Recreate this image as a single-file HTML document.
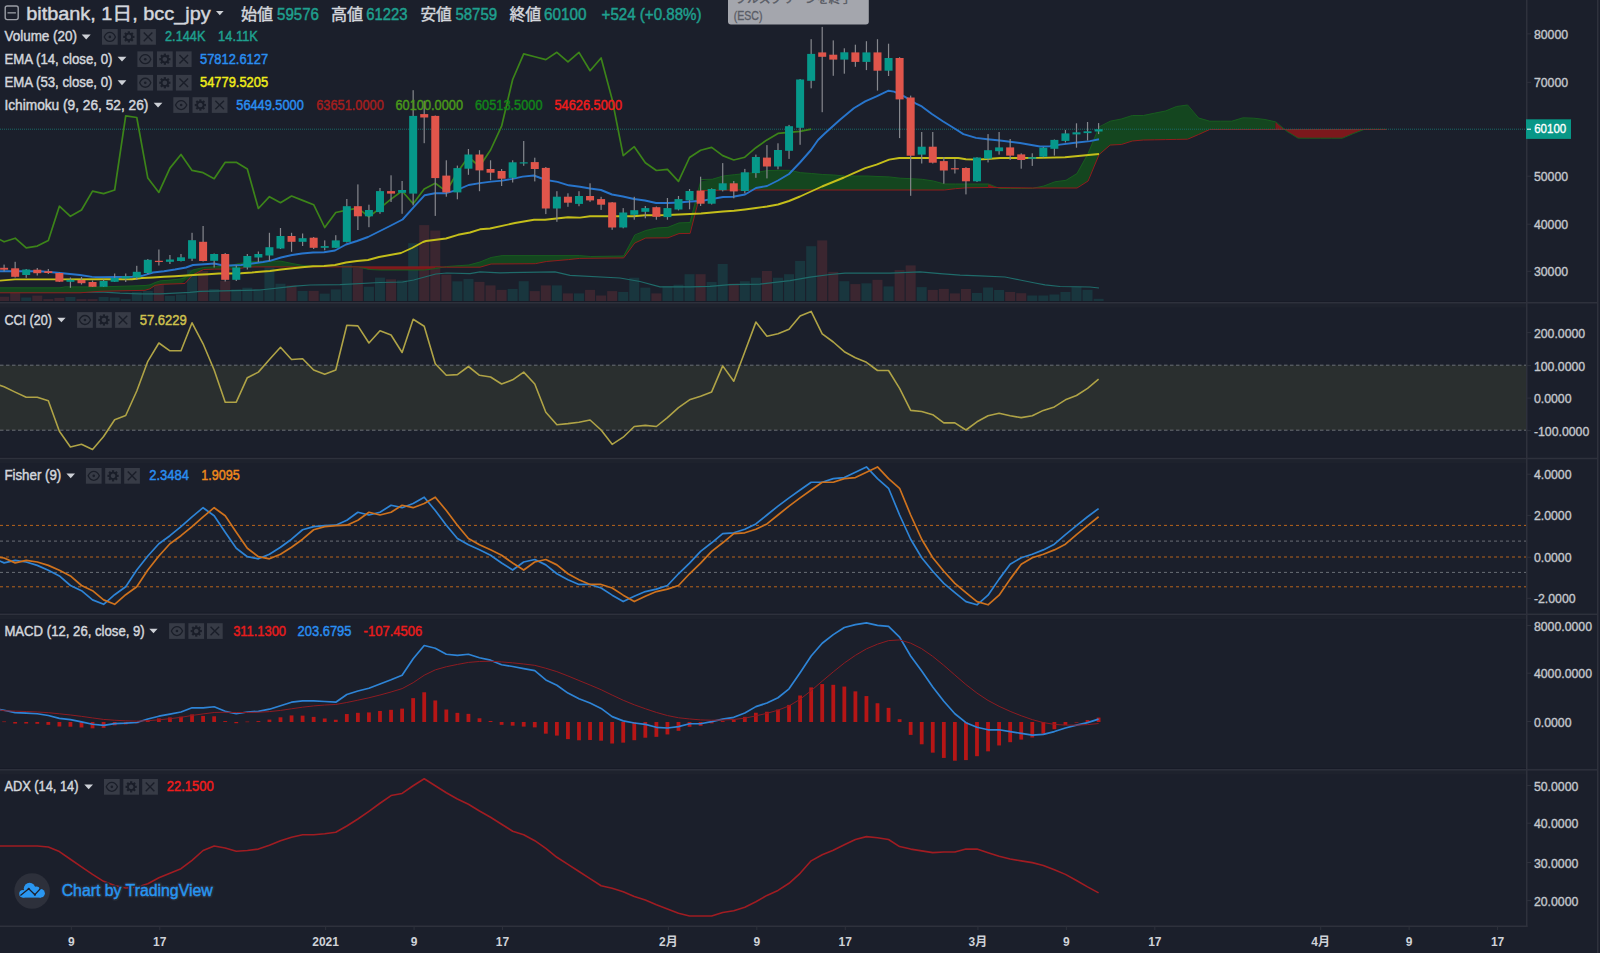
<!DOCTYPE html>
<html><head><meta charset="utf-8"><title>bitbank bcc_jpy</title><style>
html,body{margin:0;padding:0;background:#1b1f2b;width:1600px;height:953px;overflow:hidden}
svg{display:block}
text{font-family:"Liberation Sans","Noto Sans CJK JP",sans-serif}
</style></head><body>
<svg width="1600" height="953" viewBox="0 0 1600 953">
<rect width="1600" height="953" fill="#1b1f2b"/>
<defs><clipPath id="cm"><rect x="0" y="0" width="1526.5" height="302"/></clipPath>
<clipPath id="c2"><rect x="0" y="303" width="1526.5" height="155"/></clipPath>
<clipPath id="c3"><rect x="0" y="459" width="1526.5" height="155"/></clipPath>
<clipPath id="c4"><rect x="0" y="615" width="1526.5" height="154"/></clipPath>
<clipPath id="c5"><rect x="0" y="770" width="1526.5" height="156"/></clipPath></defs>
<g clip-path="url(#cm)">
<g fill="#3b2630"><rect x="-0.9" y="296.7" width="10" height="4.3"/><rect x="10.16" y="287.4" width="10" height="13.6"/><rect x="32.27" y="295.6" width="10" height="5.4"/><rect x="43.32" y="299.1" width="10" height="1.9"/><rect x="54.38" y="297.9" width="10" height="3.1"/><rect x="76.49" y="299.1" width="10" height="1.9"/><rect x="87.54" y="299.1" width="10" height="1.9"/><rect x="153.88" y="284.5" width="10" height="16.5"/><rect x="198.1" y="271" width="10" height="30"/><rect x="220.21" y="280.9" width="10" height="20.1"/><rect x="286.55" y="285.5" width="10" height="15.5"/><rect x="308.66" y="290.9" width="10" height="10.1"/><rect x="352.88" y="267.8" width="10" height="33.2"/><rect x="386.05" y="279.3" width="10" height="21.7"/><rect x="419.21" y="225.1" width="10" height="75.9"/><rect x="430.27" y="230.5" width="10" height="70.5"/><rect x="441.32" y="274.6" width="10" height="26.4"/><rect x="474.49" y="281.9" width="10" height="19.1"/><rect x="485.55" y="285.4" width="10" height="15.6"/><rect x="496.6" y="289.9" width="10" height="11.1"/><rect x="529.77" y="291.1" width="10" height="9.9"/><rect x="540.82" y="285.4" width="10" height="15.6"/><rect x="562.94" y="293.4" width="10" height="7.6"/><rect x="585.05" y="289.9" width="10" height="11.1"/><rect x="596.1" y="295.5" width="10" height="5.5"/><rect x="607.16" y="291.1" width="10" height="9.9"/><rect x="651.38" y="293.4" width="10" height="7.6"/><rect x="695.6" y="274.2" width="10" height="26.8"/><rect x="728.77" y="283.6" width="10" height="17.4"/><rect x="761.94" y="271" width="10" height="30"/><rect x="817.21" y="240.4" width="10" height="60.6"/><rect x="828.27" y="271.9" width="10" height="29.1"/><rect x="850.38" y="284.1" width="10" height="16.9"/><rect x="872.49" y="279.8" width="10" height="21.2"/><rect x="894.6" y="270.1" width="10" height="30.9"/><rect x="905.66" y="265.4" width="10" height="35.6"/><rect x="927.77" y="289.9" width="10" height="11.1"/><rect x="938.83" y="288.9" width="10" height="12.1"/><rect x="949.88" y="293.4" width="10" height="7.6"/><rect x="960.94" y="289" width="10" height="12"/><rect x="1005.16" y="292" width="10" height="9"/><rect x="1016.22" y="293.2" width="10" height="7.8"/></g>
<g fill="#19363e"><rect x="21.21" y="297.5" width="10" height="3.5"/><rect x="65.43" y="297" width="10" height="4"/><rect x="98.6" y="297" width="10" height="4"/><rect x="109.66" y="297.5" width="10" height="3.5"/><rect x="120.71" y="299.1" width="10" height="1.9"/><rect x="131.77" y="291.8" width="10" height="9.2"/><rect x="142.82" y="290.9" width="10" height="10.1"/><rect x="164.93" y="295.8" width="10" height="5.2"/><rect x="175.99" y="294.5" width="10" height="6.5"/><rect x="187.05" y="269.7" width="10" height="31.3"/><rect x="209.16" y="289" width="10" height="12"/><rect x="231.27" y="289.3" width="10" height="11.7"/><rect x="242.32" y="287.7" width="10" height="13.3"/><rect x="253.38" y="289.3" width="10" height="11.7"/><rect x="264.43" y="267.4" width="10" height="33.6"/><rect x="275.49" y="283.7" width="10" height="17.3"/><rect x="297.6" y="291" width="10" height="10"/><rect x="319.71" y="293.6" width="10" height="7.4"/><rect x="330.77" y="289.4" width="10" height="11.6"/><rect x="341.82" y="264.6" width="10" height="36.4"/><rect x="363.93" y="286.7" width="10" height="14.3"/><rect x="374.99" y="277.6" width="10" height="23.4"/><rect x="397.1" y="280.4" width="10" height="20.6"/><rect x="408.16" y="243.2" width="10" height="57.8"/><rect x="452.38" y="281.3" width="10" height="19.7"/><rect x="463.44" y="278.9" width="10" height="22.1"/><rect x="507.66" y="288.9" width="10" height="12.1"/><rect x="518.71" y="281.2" width="10" height="19.8"/><rect x="551.88" y="285.4" width="10" height="15.6"/><rect x="573.99" y="293.4" width="10" height="7.6"/><rect x="618.21" y="292" width="10" height="9"/><rect x="629.27" y="277.7" width="10" height="23.3"/><rect x="640.32" y="287.6" width="10" height="13.4"/><rect x="662.44" y="286.4" width="10" height="14.6"/><rect x="673.49" y="284.7" width="10" height="16.3"/><rect x="684.55" y="274.2" width="10" height="26.8"/><rect x="706.66" y="281.9" width="10" height="19.1"/><rect x="717.71" y="264" width="10" height="37"/><rect x="739.83" y="281.2" width="10" height="19.8"/><rect x="750.88" y="277.7" width="10" height="23.3"/><rect x="772.99" y="277.7" width="10" height="23.3"/><rect x="784.05" y="274.2" width="10" height="26.8"/><rect x="795.1" y="260.9" width="10" height="40.1"/><rect x="806.16" y="246.2" width="10" height="54.8"/><rect x="839.33" y="281.2" width="10" height="19.8"/><rect x="861.44" y="283.3" width="10" height="17.7"/><rect x="883.55" y="286.4" width="10" height="14.6"/><rect x="916.71" y="287.1" width="10" height="13.9"/><rect x="971.99" y="293" width="10" height="8"/><rect x="983.05" y="287.5" width="10" height="13.5"/><rect x="994.1" y="290" width="10" height="11"/><rect x="1027.27" y="295.5" width="10" height="5.5"/><rect x="1038.33" y="295.5" width="10" height="5.5"/><rect x="1049.38" y="294.5" width="10" height="6.5"/><rect x="1060.44" y="292" width="10" height="9"/><rect x="1071.49" y="287" width="10" height="14"/><rect x="1082.55" y="289.8" width="10" height="11.2"/><rect x="1093.6" y="298.8" width="10" height="2.2"/></g>
<polyline points="0,292.5 60,292.5 80,292.3 100,291.9 120,293.1 140,293.8 160,293.8 190,292.3 200,291.3 260,290 295,286.1 310,285 340,284.6 380,282.5 402.6,282 413.7,280 424.7,277 435.8,274 446.8,273 470,273.6 480,271.9 500,272.8 555,271.9 570,275.4 620,278 640,281.5 660,286.8 690,286.8 710,286.4 730,284.7 760,284.1 790,280.6 810,277.1 830,274.5 845,273.1 890,273.1 920,271.9 940,273.6 960,275.2 980,275.8 1005,277 1010,278 1020,280 1035,283 1045,284.8 1060,286.5 1090,287 1099,288" fill="none" stroke="#1f6b6a" stroke-width="1.2"/>
<g fill="#14461f"><polygon points="-7,287.8 4.1,287.8 15.16,287.8 26.21,287.8 37.27,287.8 48.32,287.8 59.38,287.8 70.43,286.9 81.49,286.9 92.54,286.9 103.6,286.79 114.66,286.46 125.71,286.13 136.77,285.77 147.82,285.16 158.88,281.28 169.93,280.11 180.99,278.78 192.05,270.58 203.1,267.61 214.16,266.83 225.21,266.32 236.27,264.11 247.32,262.09 258.38,261.33 269.43,261.2 280.49,261.2 291.55,263.39 302.6,265.41 313.66,266.26 324.71,266.36 335.77,266.43 346.82,266.5 346.82,266.9 335.77,266.9 324.71,266.9 313.66,266.9 302.6,266.9 291.55,266.9 280.49,266.9 269.43,266.9 258.38,266.9 247.32,267.09 236.27,269.1 225.21,269.1 214.16,269.12 203.1,269.75 192.05,275.62 180.99,283.64 169.93,284.02 158.88,284.79 147.82,289.45 136.77,290.48 125.71,290.73 114.66,290.97 103.6,291.22 92.54,291.86 81.49,292.69 70.43,292.8 59.38,292.8 48.32,292.8 37.27,292.8 26.21,292.8 15.16,292.8 4.1,292.8 -7,292.8"/><polygon points="435.27,268.57 446.32,266.59 457.38,265.78 468.44,265.03 479.49,262.14 490.55,257.72 501.6,255.69 512.66,255.6 523.71,255.6 534.77,255.6 545.82,255.6 556.88,255.6 567.94,255.6 578.99,255.6 590.05,256.46 601.1,256.34 612.16,256.17 623.21,256.01 634.27,236 645.32,230.69 656.38,228.12 667.44,227.34 678.49,223.1 689.55,222.52 700.6,181.44 711.66,179.31 722.71,176.15 733.77,174.76 744.83,173.56 755.88,172.55 766.94,170.6 777.99,170.31 789.05,170.3 800.1,172.59 811.16,173.46 822.21,174.46 833.27,174.98 844.33,175.96 855.38,176 866.44,176 877.49,176.48 888.55,176.88 899.6,178.14 910.66,178.68 921.71,179.27 932.77,180.92 943.83,183.84 954.88,184 965.94,184 976.99,184 988.05,184 988.05,187.51 976.99,187.66 965.94,187.85 954.88,188.76 943.83,190 932.77,190 921.71,190 910.66,190 899.6,190 888.55,190 877.49,190 866.44,190 855.38,190 844.33,190 833.27,190 822.21,190 811.16,190 800.1,190 789.05,190 777.99,190 766.94,190 755.88,190 744.83,190 733.77,190.01 722.71,190.2 711.66,190.31 700.6,192.44 689.55,233.41 678.49,233.79 667.44,237.81 656.38,237.9 645.32,238.22 634.27,243.71 623.21,257.91 612.16,258.03 601.1,258.16 590.05,258.28 578.99,258.46 567.94,259.65 556.88,260.59 545.82,261.6 534.77,263.7 523.71,263.78 512.66,263.85 501.6,263.93 490.55,264.16 479.49,267.2 468.44,267.2 457.38,267.2 446.32,267.18 435.27,266.9"/><polygon points="1032.27,188.31 1043.33,186.12 1054.38,182 1065.44,180.38 1076.49,173.81 1087.55,154.49 1098.6,128.19 1109.66,121.48 1120.72,119.12 1131.77,115.67 1142.83,115.5 1153.88,113.31 1164.94,111.11 1175.99,106.71 1187.05,105.07 1198.1,117.41 1209.16,121.04 1220.22,121.2 1231.27,121.2 1242.33,117.98 1253.38,118.18 1264.44,119.43 1275.49,121.88 1275.49,129.5 1264.44,129.5 1253.38,129.5 1242.33,129.5 1231.27,129.5 1220.22,129.5 1209.16,129.74 1198.1,134.71 1187.05,139.21 1175.99,139.41 1164.94,139.61 1153.88,139.81 1142.83,140.05 1131.77,141.17 1120.72,144.53 1109.66,145.46 1098.6,155.69 1087.55,181.35 1076.49,188 1065.44,188 1054.38,188 1043.33,188 1032.27,187.99"/><polygon points="1363.94,129.51 1374.99,129.3 1386.05,129.3 1386.05,129.5 1374.99,129.5 1363.94,129.5"/></g>
<g fill="#7c181c"><polygon points="346.82,266.5 357.88,266.98 368.93,269.39 379.99,269.98 391.05,270 402.1,270 413.16,270 424.21,270 435.27,268.57 435.27,266.9 424.21,266.9 413.16,266.9 402.1,266.9 391.05,266.9 379.99,266.9 368.93,266.9 357.88,266.9 346.82,266.9"/><polygon points="988.05,184 999.1,188.3 1010.16,188.5 1021.22,188.5 1032.27,188.31 1032.27,187.99 1021.22,187.87 1010.16,187.74 999.1,187.62 988.05,187.51"/><polygon points="1275.49,121.88 1286.55,131.03 1297.61,137.9 1308.66,138.2 1319.72,138.2 1330.77,138.2 1341.83,138.2 1352.88,133.72 1363.94,129.51 1363.94,129.5 1352.88,129.5 1341.83,129.5 1330.77,129.5 1319.72,129.5 1308.66,129.5 1297.61,129.5 1286.55,129.5 1275.49,129.5"/></g>
<polyline points="-7,287.8 0,287.8 60,287.8 65,286.9 100,286.9 130,286 145,285.5 150,284.9 155,282.6 160,280.9 170,280.1 180,279 185,277.9 192.6,270 203.6,267.5 214.7,266.8 225.7,266.3 236.8,264 247.8,262 258.9,261.3 269.9,261.2 281,261.2 292.1,263.5 303.1,265.5 314.2,266.3 347.3,266.5 358.4,267 369.4,269.5 380.5,270 424.7,270 435.8,268.5 446.8,266.5 468.9,265 480,262 491.1,257.5 502.1,255.6 579.5,255.6 590.6,256.5 623.7,256 634.8,235 645.8,230.5 656.9,228 668,227.3 679,222.9 690.1,222.5 701.1,179.5 712.2,179.3 723.2,176 734.3,174.7 745.4,173.5 756.4,172.5 767.5,170.5 778.5,170.3 789.6,170.3 800.6,172.7 811.7,173.5 822.7,174.5 833.8,175 844.8,176 855.9,176 867,176 878,176.5 889.1,176.9 900.1,178.2 911.2,178.7 922.2,179.3 933.3,181 944.4,184 955.4,184 966.5,184 977.5,184 988.6,184 999.6,188.5 1010.7,188.5 1021.7,188.5 1032.8,188.3 1043.9,186 1054.9,181.8 1066,180.3 1077,173.5 1088.1,153.5 1099.1,127 1110.2,121.2 1121.3,119 1132.3,115.5 1143.4,115.5 1154.4,113.2 1165.5,111 1176.5,106.5 1187.6,105 1198.6,118 1209.7,121.2 1220.8,121.2 1231.8,121.2 1242.9,117.8 1253.9,118.2 1265,119.5 1276,122 1287.1,131.5 1298.1,138.2 1309.2,138.2 1320.3,138.2 1331.3,138.2 1342.4,138.2 1353.4,133.5 1364.5,129.3 1375.5,129.3 1386.6,129.3" fill="none" stroke="#185c1f" stroke-width="1"/>
<polyline points="-7,292.8 0,292.8 80,292.8 100,291.3 145,290.3 150,288.8 155,285.4 162,284.3 185,283.5 192.6,275 203.6,269.5 214.7,269.1 236.8,269.1 247.8,267 258.9,266.9 440,266.9 446.8,267.2 480,267.2 491.1,264 535.3,263.7 546.3,261.5 568.5,259.6 579.5,258.4 623.7,257.9 634.8,243 645.8,238 668,237.8 679,233.6 690.1,233.4 701.1,190.5 712.2,190.3 723.2,190.2 734.3,190 944.4,190 955.4,188.7 966.5,187.8 988.6,187.5 1032.8,188 1077,188 1088.1,181 1099.1,154.5 1110.2,145 1121.3,144.5 1132.3,141 1143.4,140 1154.4,139.8 1165.5,139.6 1176.5,139.4 1187.6,139.2 1198.6,134.5 1209.7,129.5 1386.6,129.5" fill="none" stroke="#8f1d1d" stroke-width="1"/>
<line x1="0" y1="129.2" x2="1526.5" y2="129.2" stroke="#1a6a69" stroke-width="1" stroke-dasharray="1,1"/>
<polyline points="-6.96,236 4.1,241.8 15.16,238.2 26.21,247.8 37.27,246.1 48.32,240.4 59.38,206.2 70.43,216.3 81.49,210 92.54,191.1 103.6,193.6 114.66,190 125.71,115.9 136.77,117.5 147.82,178.1 158.88,192.4 169.93,168.1 180.99,154.5 192.05,170.4 203.1,172.7 214.16,178.7 225.21,162.3 236.27,162.3 247.32,169 258.38,208.5 269.43,196.7 280.49,202.7 291.55,196 302.6,200.4 313.66,204.7 324.71,227.5 335.77,212.5 346.82,210.2 357.88,208.1 368.93,216.8 379.99,208.1 391.05,199.1 402.1,191 413.16,203.7 424.21,189 435.27,183.3 446.32,191.4 457.38,172.3 468.44,157 479.49,166.5 490.55,150 501.6,126.2 512.66,79.5 523.71,53.9 534.77,56.8 545.82,59.6 556.88,52.3 567.94,61.9 578.99,52.4 590.05,70.7 601.1,58 612.16,99.4 623.21,155.7 634.27,146.7 645.32,162.7 656.38,170.5 667.44,169.3 678.49,181.3 689.55,157.5 700.6,150.2 711.66,147.4 722.71,155.6 733.77,160 744.83,157.2 755.88,147.7 766.94,139.9 777.99,133.4 789.05,132.3 800.1,131.3 811.16,129.2" fill="none" stroke="#3c8419" stroke-width="1.7" stroke-linejoin="round"/>
<polyline points="0,271.3 40,271.3 55,272.5 80,275 92,276.9 100,277.3 132,276.8 142,275.8 153,272.5 164,271.2 175,269.5 186,267.5 193,265 208,264 214,263.5 221,265 230,265.5 241,265 252,263.5 263,262 270,260.8 281,257.5 292,255 302,253.5 313,252.5 324,252.2 335,250.5 346,244.5 357,241 368,237 379,231.5 390,226 402.6,219.5 413.7,207.2 424.7,195.2 434.9,193.2 446.1,193.2 457.4,189.8 468.6,185 479.9,183.1 491.1,181.6 502.4,180.6 512.5,178.9 522.6,176.6 533.9,175.5 540.6,178 546.2,180 557.5,181.9 568.7,185.3 580,186.7 590,188.5 601,190 612,194.5 623,196.5 634,199 645,200.5 656,203 668,203 679,202.5 690,201.5 701,201 712,199 723,197 733,196.8 745,194.5 756,188 767,186 778,180.5 789,174 800,162.5 811,150 818,140 825,133.3 840,119.7 853.8,108.3 865.2,101.4 876.5,96.4 888.5,90.7 894.1,91.6 904.2,96.4 915.5,103.3 921.8,106.4 931.9,114 943.2,121.5 954.6,128.5 963.4,134.1 976,137.9 987.3,139.2 1000,140.5 1020,143 1040,146.5 1050,146.2 1060,144.6 1075,142.8 1090,141.1 1099,139.3" fill="none" stroke="#2875cc" stroke-width="1.9" stroke-linejoin="round"/>
<polyline points="0,280.6 15,279.4 50,279.4 110,279.2 132,279.2 142,278 153,277.5 164,276.8 175,276.2 186,275.5 197,274.8 208,274.2 219,273.5 230,273.5 241,273.2 252,272.5 263,271.5 270,271 281,269.5 302,267.2 313,266.2 324,266 335,265 346,262.5 357,261 368,260 379,257 390,255 401,253 412,248 423,242 426,241 446,238.5 458,234.8 470,232.5 480,229.3 490,228.5 515,223 534,219.8 545,219.8 568,217.2 580,217.6 590,216.2 634,216.2 645,215.2 656,215.2 668,215 679,214.5 690,214 701,213.5 712,212.5 723,211.5 734,210.8 745,209.5 756,208 767,206.5 778,204.5 789,201 800,196.5 811,191.5 822,186.5 833,182 844,177.5 853.8,173.2 865.2,168.1 876.5,164.6 889.1,159.6 899.2,158 958.3,158 965.9,159.3 976,159.6 987.3,159 1000,158 1040,157.9 1065,157.2 1099,154" fill="none" stroke="#c4be1a" stroke-width="1.9" stroke-linejoin="round"/>
<g fill="#85878d"><rect x="3.5" y="264.6" width="1.2" height="6.9"/><rect x="14.56" y="261.8" width="1.2" height="15.7"/><rect x="25.61" y="269" width="1.2" height="8.8"/><rect x="36.67" y="268" width="1.2" height="7.5"/><rect x="47.72" y="269" width="1.2" height="5"/><rect x="58.78" y="272.5" width="1.2" height="9.5"/><rect x="69.83" y="277.5" width="1.2" height="10.3"/><rect x="80.89" y="277" width="1.2" height="7.5"/><rect x="91.94" y="280.5" width="1.2" height="6.5"/><rect x="103" y="279.5" width="1.2" height="7.5"/><rect x="114.06" y="273.5" width="1.2" height="8.5"/><rect x="125.11" y="273.5" width="1.2" height="8.5"/><rect x="136.17" y="265.8" width="1.2" height="14.2"/><rect x="147.22" y="259" width="1.2" height="15"/><rect x="158.28" y="249.5" width="1.2" height="16"/><rect x="169.33" y="255" width="1.2" height="9"/><rect x="180.39" y="254" width="1.2" height="7.5"/><rect x="191.45" y="232.8" width="1.2" height="28.2"/><rect x="202.5" y="226" width="1.2" height="35.5"/><rect x="213.56" y="253.5" width="1.2" height="14"/><rect x="224.61" y="253" width="1.2" height="28.5"/><rect x="235.67" y="265.5" width="1.2" height="15.5"/><rect x="246.72" y="254" width="1.2" height="15.5"/><rect x="257.78" y="251.5" width="1.2" height="10.5"/><rect x="268.83" y="232.8" width="1.2" height="28.2"/><rect x="279.89" y="228" width="1.2" height="21"/><rect x="290.95" y="232.8" width="1.2" height="19"/><rect x="302" y="233.5" width="1.2" height="12.5"/><rect x="313.06" y="237" width="1.2" height="12"/><rect x="324.11" y="240.4" width="1.2" height="9.9"/><rect x="335.17" y="235.2" width="1.2" height="12.8"/><rect x="346.22" y="199" width="1.2" height="43.5"/><rect x="357.28" y="184.4" width="1.2" height="45.6"/><rect x="368.33" y="204.7" width="1.2" height="22.5"/><rect x="379.39" y="188" width="1.2" height="25.8"/><rect x="390.45" y="175.3" width="1.2" height="26.7"/><rect x="401.5" y="181" width="1.2" height="32.8"/><rect x="412.56" y="90.2" width="1.2" height="115.2"/><rect x="423.61" y="100.7" width="1.2" height="42.5"/><rect x="434.67" y="115.5" width="1.2" height="100.4"/><rect x="445.72" y="160.3" width="1.2" height="36.4"/><rect x="456.78" y="165.6" width="1.2" height="33.7"/><rect x="467.84" y="149" width="1.2" height="25.8"/><rect x="478.89" y="150.2" width="1.2" height="41"/><rect x="489.95" y="160.3" width="1.2" height="19.9"/><rect x="501" y="169" width="1.2" height="17"/><rect x="512.06" y="160.3" width="1.2" height="22.2"/><rect x="523.11" y="141" width="1.2" height="24.8"/><rect x="534.17" y="157.7" width="1.2" height="23.7"/><rect x="545.22" y="167" width="1.2" height="47.1"/><rect x="556.28" y="191.2" width="1.2" height="30.6"/><rect x="567.34" y="193.3" width="1.2" height="13.5"/><rect x="578.39" y="191.2" width="1.2" height="15"/><rect x="589.45" y="183.3" width="1.2" height="18.5"/><rect x="600.5" y="196.8" width="1.2" height="13.1"/><rect x="611.56" y="202" width="1.2" height="27.8"/><rect x="622.61" y="208.1" width="1.2" height="20.2"/><rect x="633.67" y="196.8" width="1.2" height="22.9"/><rect x="644.72" y="206" width="1.2" height="12.3"/><rect x="655.78" y="206.5" width="1.2" height="13.2"/><rect x="666.84" y="198" width="1.2" height="21.7"/><rect x="677.89" y="196" width="1.2" height="14.4"/><rect x="688.95" y="189" width="1.2" height="20.3"/><rect x="700" y="176.7" width="1.2" height="29.3"/><rect x="711.06" y="188.3" width="1.2" height="16.2"/><rect x="722.11" y="163.1" width="1.2" height="28.3"/><rect x="733.17" y="181" width="1.2" height="17.3"/><rect x="744.23" y="168.9" width="1.2" height="24.4"/><rect x="755.28" y="154.6" width="1.2" height="23.2"/><rect x="766.34" y="145.1" width="1.2" height="33.3"/><rect x="777.39" y="143.3" width="1.2" height="26"/><rect x="788.45" y="124.9" width="1.2" height="34"/><rect x="799.5" y="79" width="1.2" height="65.8"/><rect x="810.56" y="39.2" width="1.2" height="49.1"/><rect x="821.61" y="26.9" width="1.2" height="85.3"/><rect x="832.67" y="40.4" width="1.2" height="35.4"/><rect x="843.73" y="48.3" width="1.2" height="25.4"/><rect x="854.78" y="44.7" width="1.2" height="22.1"/><rect x="865.84" y="41.2" width="1.2" height="28.9"/><rect x="876.89" y="39.2" width="1.2" height="51.4"/><rect x="887.95" y="43.7" width="1.2" height="32.3"/><rect x="899" y="57.2" width="1.2" height="80.9"/><rect x="910.06" y="95.6" width="1.2" height="100.2"/><rect x="921.11" y="132" width="1.2" height="31.5"/><rect x="932.17" y="132" width="1.2" height="31.5"/><rect x="943.23" y="157.2" width="1.2" height="26.5"/><rect x="954.28" y="159.3" width="1.2" height="14.2"/><rect x="965.34" y="167.2" width="1.2" height="27.2"/><rect x="976.39" y="157.2" width="1.2" height="24.8"/><rect x="987.45" y="134.1" width="1.2" height="28.3"/><rect x="998.5" y="132" width="1.2" height="22.6"/><rect x="1009.56" y="139" width="1.2" height="21"/><rect x="1020.62" y="153.3" width="1.2" height="15.4"/><rect x="1031.67" y="153.3" width="1.2" height="12.6"/><rect x="1042.73" y="147" width="1.2" height="10.5"/><rect x="1053.78" y="139.5" width="1.2" height="16.1"/><rect x="1064.84" y="129.9" width="1.2" height="12.6"/><rect x="1075.89" y="123.3" width="1.2" height="24.4"/><rect x="1086.95" y="122" width="1.2" height="18.4"/><rect x="1098" y="123.1" width="1.2" height="11"/></g>
<g fill="#e0554b"><rect x="0.1" y="267.8" width="8" height="1.9"/><rect x="11.16" y="268.3" width="8" height="8.5"/><rect x="33.27" y="269.7" width="8" height="3.5"/><rect x="44.32" y="271.2" width="8" height="1.8"/><rect x="55.38" y="273" width="8" height="8.7"/><rect x="77.49" y="280" width="8" height="3.2"/><rect x="88.54" y="282" width="8" height="4.8"/><rect x="154.88" y="260.8" width="8" height="1.2"/><rect x="199.1" y="241.8" width="8" height="19.2"/><rect x="221.21" y="254" width="8" height="25.8"/><rect x="287.55" y="236" width="8" height="5.8"/><rect x="309.66" y="237.7" width="8" height="10.1"/><rect x="353.88" y="206.2" width="8" height="10.1"/><rect x="387.05" y="191.1" width="8" height="2.5"/><rect x="420.21" y="114.1" width="8" height="3.4"/><rect x="431.27" y="115.9" width="8" height="62.2"/><rect x="442.32" y="175.6" width="8" height="16.8"/><rect x="475.49" y="154.5" width="8" height="15.9"/><rect x="486.55" y="169" width="8" height="3.7"/><rect x="497.6" y="171" width="8" height="7.7"/><rect x="530.77" y="162.1" width="8" height="6.9"/><rect x="541.82" y="167.9" width="8" height="40.6"/><rect x="563.94" y="196.7" width="8" height="6"/><rect x="586.05" y="196" width="8" height="4.4"/><rect x="597.1" y="199.1" width="8" height="5.6"/><rect x="608.16" y="202.4" width="8" height="25.1"/><rect x="652.38" y="207.2" width="8" height="9.6"/><rect x="696.6" y="190.6" width="8" height="13.1"/><rect x="729.77" y="183.3" width="8" height="8.1"/><rect x="762.94" y="157.6" width="8" height="8.9"/><rect x="818.21" y="52.4" width="8" height="4.4"/><rect x="829.27" y="54.7" width="8" height="4.9"/><rect x="851.38" y="52.4" width="8" height="9.5"/><rect x="873.49" y="52.4" width="8" height="18.3"/><rect x="895.6" y="58" width="8" height="41.4"/><rect x="906.66" y="97.5" width="8" height="58.2"/><rect x="928.77" y="146.7" width="8" height="16"/><rect x="939.83" y="161.1" width="8" height="9.4"/><rect x="950.88" y="168.2" width="8" height="1.2"/><rect x="961.94" y="168" width="8" height="13.3"/><rect x="1006.16" y="147.4" width="8" height="8.2"/><rect x="1017.22" y="154.4" width="8" height="5.6"/></g>
<g fill="#06988a"><rect x="22.21" y="269.5" width="8" height="5.5"/><rect x="66.43" y="279.8" width="8" height="2"/><rect x="99.6" y="281" width="8" height="5.8"/><rect x="110.66" y="277.8" width="8" height="4"/><rect x="121.71" y="276.3" width="8" height="2.2"/><rect x="132.77" y="271.8" width="8" height="5.7"/><rect x="143.82" y="259.8" width="8" height="13.2"/><rect x="165.93" y="259.5" width="8" height="2.3"/><rect x="176.99" y="257.3" width="8" height="3.7"/><rect x="188.05" y="240.2" width="8" height="18.5"/><rect x="210.16" y="254" width="8" height="6.8"/><rect x="232.27" y="267.5" width="8" height="12.3"/><rect x="243.32" y="256" width="8" height="11.5"/><rect x="254.38" y="254" width="8" height="3.5"/><rect x="265.43" y="247.2" width="8" height="8.3"/><rect x="276.49" y="236" width="8" height="12.5"/><rect x="298.6" y="238.2" width="8" height="3.6"/><rect x="320.71" y="246.1" width="8" height="1.7"/><rect x="331.77" y="240.4" width="8" height="7.4"/><rect x="342.82" y="206.2" width="8" height="35.7"/><rect x="364.93" y="210" width="8" height="6.3"/><rect x="375.99" y="191.1" width="8" height="21"/><rect x="398.1" y="190" width="8" height="2.8"/><rect x="409.16" y="115.9" width="8" height="77.7"/><rect x="453.38" y="168.1" width="8" height="24.3"/><rect x="464.44" y="154.5" width="8" height="14.2"/><rect x="508.66" y="162.3" width="8" height="15.6"/><rect x="519.71" y="162.3" width="8" height="1.2"/><rect x="552.88" y="196.7" width="8" height="11.8"/><rect x="574.99" y="196" width="8" height="7.9"/><rect x="619.21" y="212.5" width="8" height="15"/><rect x="630.27" y="210.2" width="8" height="4.6"/><rect x="641.32" y="208.1" width="8" height="3.7"/><rect x="663.44" y="208.1" width="8" height="9"/><rect x="674.49" y="199.1" width="8" height="10.4"/><rect x="685.55" y="191" width="8" height="9.3"/><rect x="707.66" y="189" width="8" height="14.7"/><rect x="718.71" y="183.3" width="8" height="6.9"/><rect x="740.83" y="172.3" width="8" height="18.7"/><rect x="751.88" y="157" width="8" height="16.1"/><rect x="773.99" y="150" width="8" height="16.5"/><rect x="785.05" y="126.2" width="8" height="24.6"/><rect x="796.1" y="79.5" width="8" height="48.3"/><rect x="807.16" y="53.9" width="8" height="26.9"/><rect x="840.33" y="52.3" width="8" height="7.3"/><rect x="862.44" y="52.4" width="8" height="9.5"/><rect x="884.55" y="58" width="8" height="12.7"/><rect x="917.71" y="146.7" width="8" height="7.9"/><rect x="972.99" y="157.5" width="8" height="23.8"/><rect x="984.05" y="150.2" width="8" height="8.4"/><rect x="995.1" y="147.4" width="8" height="3.8"/><rect x="1028.27" y="157.2" width="8" height="1.6"/><rect x="1039.33" y="147.7" width="8" height="9"/><rect x="1050.38" y="139.9" width="8" height="8.9"/><rect x="1061.44" y="133.4" width="8" height="7.5"/><rect x="1072.49" y="132.3" width="8" height="2.1"/><rect x="1083.55" y="131.3" width="8" height="1.8"/><rect x="1094.6" y="129.2" width="8" height="2.3"/></g>
</g>
<g clip-path="url(#c2)">
<rect x="0" y="365.2" width="1526.5" height="65" fill="#2a2f2f"/>
<line x1="0" y1="365.2" x2="1526.5" y2="365.2" stroke="#6a6e76" stroke-width="1" stroke-dasharray="3.5,2.5"/>
<line x1="0" y1="430.2" x2="1526.5" y2="430.2" stroke="#6a6e76" stroke-width="1" stroke-dasharray="3.5,2.5"/>
<polyline points="-6.96,383 4.1,386.8 15.16,392.1 26.21,397.3 37.27,397.3 48.32,400.8 59.38,431.3 70.43,447 81.49,444.2 92.54,449.5 103.6,436.5 114.66,419.7 125.71,415.5 136.77,391 147.82,361.3 158.88,343 169.93,350.8 180.99,350.8 192.05,322.8 203.1,343.8 214.16,370 225.21,402.2 236.27,402.2 247.32,377.7 258.38,372.1 269.43,359.5 280.49,347.3 291.55,359.5 302.6,358.8 313.66,370 324.71,374.2 335.77,370 346.82,325.2 357.88,325.9 368.93,343 379.99,330.8 391.05,335 402.1,352.5 413.16,319.3 424.21,326.3 435.27,363.7 446.32,375.3 457.38,374.6 468.44,366.5 479.49,375.3 490.55,377 501.6,384 512.66,379.8 523.71,372.1 534.77,384 545.82,412.2 556.88,424.7 567.94,423.6 578.99,422.2 590.05,420 601.1,430 612.16,444.3 623.21,437.2 634.27,426.5 645.32,425.4 656.38,426.5 667.44,417.6 678.49,407.6 689.55,399.8 700.6,396.2 711.66,391.9 722.71,365.9 733.77,381.2 744.83,351.7 755.88,322.1 766.94,336.3 777.99,333.8 789.05,329.2 800.1,316 811.16,311.4 822.21,333.8 833.27,342 844.33,351.7 855.38,357.7 866.44,362.3 877.49,370.5 888.55,370.5 899.6,388.3 910.66,410.4 921.71,411.5 932.77,414.7 943.83,422.9 954.88,422.9 965.94,430 976.99,421.8 988.05,415.8 999.1,413.3 1010.16,415.8 1021.22,417.6 1032.27,415.8 1043.33,410.4 1054.38,406.9 1065.44,399.8 1076.49,395.5 1087.55,388.3 1098.6,379.1" fill="none" stroke="#afa346" stroke-width="1.6" stroke-linejoin="round"/>
</g>
<g clip-path="url(#c3)">
<line x1="0" y1="525.4" x2="1526.5" y2="525.4" stroke="#b8641c" stroke-width="1" stroke-dasharray="3,3"/>
<line x1="0" y1="541.1" x2="1526.5" y2="541.1" stroke="#6a6e76" stroke-width="1" stroke-dasharray="3,3"/>
<line x1="0" y1="557" x2="1526.5" y2="557" stroke="#b8641c" stroke-width="1" stroke-dasharray="3,3"/>
<line x1="0" y1="572.4" x2="1526.5" y2="572.4" stroke="#6a6e76" stroke-width="1" stroke-dasharray="3,3"/>
<line x1="0" y1="586.8" x2="1526.5" y2="586.8" stroke="#b8641c" stroke-width="1" stroke-dasharray="3,3"/>
<polyline points="-6.96,558 4.1,562.9 15.16,560.3 26.21,562 37.27,565.4 48.32,570.2 59.38,575.9 70.43,585.5 81.49,590.7 92.54,599.9 103.6,604.3 114.66,594.7 125.71,586.8 136.77,570.01 147.82,556 158.88,543.75 169.93,535.7 180.99,526.6 192.05,516.8 203.1,507.7 214.16,515.75 225.21,532.2 236.27,548.3 247.32,556.7 258.38,558.81 269.43,554.25 280.49,547.25 291.55,539.2 302.6,529.75 313.66,526.6 324.71,525.55 335.77,525.2 346.82,520.3 357.88,512.25 368.93,515.05 379.99,512.25 391.05,505.25 402.1,507.7 413.16,503.5 424.21,497.2 435.27,510.5 446.32,525.2 457.38,538.5 468.44,544.8 479.49,549.7 490.55,555.3 501.6,563.01 512.66,570.01 523.71,561.96 534.77,559.51 545.82,564.88 556.88,573.78 567.94,579.84 578.99,584.47 590.05,584.47 601.1,588.03 612.16,595.16 623.21,601.57 634.27,596.23 645.32,591.59 656.38,589.1 667.44,585.54 678.49,573.78 689.55,563.09 700.6,551.34 711.66,542.79 722.71,533.53 733.77,532.81 744.83,529.25 755.88,523.91 766.94,515 777.99,506.09 789.05,497.9 800.1,490.06 811.16,482.23 822.21,482.23 833.27,478.66 844.33,477.59 855.38,472.25 866.44,466.91 877.49,478.66 888.55,488.28 899.6,515 910.66,539.23 921.71,557.75 932.77,571.29 943.83,583.4 954.88,592.66 965.94,601.57 976.99,604.78 988.05,595.16 999.1,579.13 1010.16,564.16 1021.22,557.75 1032.27,554.19 1043.33,549.91 1054.38,544.21 1065.44,534.59 1076.49,525.69 1087.55,516.78 1098.6,508.59" fill="none" stroke="#2e84d6" stroke-width="1.7" stroke-linejoin="round"/>
<polyline points="-6.96,556.5 4.1,558 15.16,562.9 26.21,560.3 37.27,562 48.32,565.4 59.38,570.2 70.43,575.9 81.49,585.5 92.54,590.7 103.6,599.9 114.66,604.3 125.71,594.7 136.77,586.8 147.82,570.01 158.88,556 169.93,543.75 180.99,535.7 192.05,526.6 203.1,516.8 214.16,507.7 225.21,515.75 236.27,532.2 247.32,548.3 258.38,556.7 269.43,558.81 280.49,554.25 291.55,547.25 302.6,539.2 313.66,529.75 324.71,526.6 335.77,525.55 346.82,525.2 357.88,520.3 368.93,512.25 379.99,515.05 391.05,512.25 402.1,505.25 413.16,507.7 424.21,503.5 435.27,497.2 446.32,510.5 457.38,525.2 468.44,538.5 479.49,544.8 490.55,549.7 501.6,555.3 512.66,563.01 523.71,570.01 534.77,561.96 545.82,559.51 556.88,564.88 567.94,573.78 578.99,579.84 590.05,584.47 601.1,584.47 612.16,588.03 623.21,595.16 634.27,601.57 645.32,596.23 656.38,591.59 667.44,589.1 678.49,585.54 689.55,573.78 700.6,563.09 711.66,551.34 722.71,542.79 733.77,533.53 744.83,532.81 755.88,529.25 766.94,523.91 777.99,515 789.05,506.09 800.1,497.9 811.16,490.06 822.21,482.23 833.27,482.23 844.33,478.66 855.38,477.59 866.44,472.25 877.49,466.91 888.55,478.66 899.6,488.28 910.66,515 921.71,539.23 932.77,557.75 943.83,571.29 954.88,583.4 965.94,592.66 976.99,601.57 988.05,604.78 999.1,595.16 1010.16,579.13 1021.22,564.16 1032.27,557.75 1043.33,554.19 1054.38,549.91 1065.44,544.21 1076.49,534.59 1087.55,525.69 1098.6,516.78" fill="none" stroke="#cf721d" stroke-width="1.7" stroke-linejoin="round"/>
</g>
<g clip-path="url(#c4)">
<g fill="#b71616"><rect x="2.2" y="721.5" width="3.8" height="0.6"/><rect x="13.26" y="722" width="3.8" height="1.56"/><rect x="24.31" y="722" width="3.8" height="1.53"/><rect x="35.37" y="722" width="3.8" height="1.78"/><rect x="46.42" y="722" width="3.8" height="2.83"/><rect x="57.48" y="722" width="3.8" height="4.5"/><rect x="68.53" y="722" width="3.8" height="4.72"/><rect x="79.59" y="722" width="3.8" height="5.46"/><rect x="90.64" y="722" width="3.8" height="6.33"/><rect x="101.7" y="722" width="3.8" height="5.9"/><rect x="112.76" y="722" width="3.8" height="3.32"/><rect x="123.81" y="722" width="3.8" height="2.38"/><rect x="134.87" y="722" width="3.8" height="1.34"/><rect x="145.92" y="720.27" width="3.8" height="1.73"/><rect x="156.98" y="718.38" width="3.8" height="3.62"/><rect x="168.03" y="717.42" width="3.8" height="4.58"/><rect x="179.09" y="716.66" width="3.8" height="5.34"/><rect x="190.15" y="714.37" width="3.8" height="7.63"/><rect x="201.2" y="715.89" width="3.8" height="6.11"/><rect x="212.26" y="716.27" width="3.8" height="5.73"/><rect x="223.31" y="721.06" width="3.8" height="0.94"/><rect x="234.37" y="722" width="3.8" height="1.21"/><rect x="245.42" y="721.57" width="3.8" height="0.6"/><rect x="256.48" y="721.09" width="3.8" height="0.91"/><rect x="267.53" y="719.59" width="3.8" height="2.41"/><rect x="278.59" y="717.28" width="3.8" height="4.72"/><rect x="289.65" y="715.42" width="3.8" height="6.58"/><rect x="300.7" y="715.62" width="3.8" height="6.38"/><rect x="311.76" y="716.89" width="3.8" height="5.11"/><rect x="322.81" y="718.47" width="3.8" height="3.53"/><rect x="333.87" y="719.74" width="3.8" height="2.26"/><rect x="344.92" y="714.03" width="3.8" height="7.97"/><rect x="355.98" y="712.82" width="3.8" height="9.18"/><rect x="367.03" y="712.42" width="3.8" height="9.58"/><rect x="378.09" y="710.98" width="3.8" height="11.02"/><rect x="389.15" y="709.82" width="3.8" height="12.18"/><rect x="400.2" y="708.62" width="3.8" height="13.38"/><rect x="411.26" y="698.13" width="3.8" height="23.87"/><rect x="422.31" y="692.27" width="3.8" height="29.73"/><rect x="433.37" y="700.45" width="3.8" height="21.55"/><rect x="444.42" y="709.52" width="3.8" height="12.48"/><rect x="455.48" y="712.86" width="3.8" height="9.14"/><rect x="466.54" y="713.85" width="3.8" height="8.15"/><rect x="477.59" y="718.28" width="3.8" height="3.72"/><rect x="488.65" y="720.98" width="3.8" height="1.02"/><rect x="499.7" y="722" width="3.8" height="2.83"/><rect x="510.76" y="722" width="3.8" height="3.66"/><rect x="521.81" y="722" width="3.8" height="4.61"/><rect x="532.87" y="722" width="3.8" height="5.37"/><rect x="543.92" y="722" width="3.8" height="11.66"/><rect x="554.98" y="722" width="3.8" height="13.6"/><rect x="566.04" y="722" width="3.8" height="17.15"/><rect x="577.09" y="722" width="3.8" height="18.28"/><rect x="588.15" y="722" width="3.8" height="18.04"/><rect x="599.2" y="722" width="3.8" height="18.71"/><rect x="610.26" y="722" width="3.8" height="21.52"/><rect x="621.31" y="722" width="3.8" height="20.64"/><rect x="632.37" y="722" width="3.8" height="18.22"/><rect x="643.42" y="722" width="3.8" height="15.72"/><rect x="654.48" y="722" width="3.8" height="14.85"/><rect x="665.54" y="722" width="3.8" height="12.45"/><rect x="676.59" y="722" width="3.8" height="8.82"/><rect x="687.65" y="722" width="3.8" height="4.78"/><rect x="698.7" y="722" width="3.8" height="3.82"/><rect x="709.76" y="722" width="3.8" height="1.35"/><rect x="720.81" y="721.08" width="3.8" height="0.92"/><rect x="731.87" y="719.84" width="3.8" height="2.16"/><rect x="742.93" y="716.85" width="3.8" height="5.15"/><rect x="753.98" y="712.75" width="3.8" height="9.25"/><rect x="765.04" y="711.75" width="3.8" height="10.25"/><rect x="776.09" y="709.53" width="3.8" height="12.47"/><rect x="787.15" y="704.9" width="3.8" height="17.1"/><rect x="798.2" y="695.49" width="3.8" height="26.51"/><rect x="809.26" y="687.4" width="3.8" height="34.6"/><rect x="820.31" y="684.06" width="3.8" height="37.94"/><rect x="831.37" y="684.81" width="3.8" height="37.19"/><rect x="842.43" y="686.55" width="3.8" height="35.45"/><rect x="853.48" y="691.36" width="3.8" height="30.64"/><rect x="864.54" y="696.06" width="3.8" height="25.94"/><rect x="875.59" y="703.24" width="3.8" height="18.76"/><rect x="886.65" y="707.85" width="3.8" height="14.15"/><rect x="897.7" y="719.23" width="3.8" height="2.77"/><rect x="908.76" y="722" width="3.8" height="12.89"/><rect x="919.81" y="722" width="3.8" height="22.28"/><rect x="930.87" y="722" width="3.8" height="30.65"/><rect x="941.93" y="722" width="3.8" height="35.92"/><rect x="952.98" y="722" width="3.8" height="38.71"/><rect x="964.04" y="722" width="3.8" height="38.09"/><rect x="975.09" y="722" width="3.8" height="34.18"/><rect x="986.15" y="722" width="3.8" height="29.34"/><rect x="997.2" y="722" width="3.8" height="23.47"/><rect x="1008.26" y="722" width="3.8" height="20.2"/><rect x="1019.32" y="722" width="3.8" height="17.59"/><rect x="1030.37" y="722" width="3.8" height="15.49"/><rect x="1041.43" y="722" width="3.8" height="11.83"/><rect x="1052.48" y="722" width="3.8" height="7.18"/><rect x="1063.54" y="722" width="3.8" height="2.89"/><rect x="1074.59" y="722" width="3.8" height="0.6"/><rect x="1085.65" y="720.03" width="3.8" height="1.97"/><rect x="1096.7" y="717.58" width="3.8" height="4.42"/></g>
<polyline points="-6.96,708.5 4.1,710.25 15.16,712.7 26.21,713.05 37.27,713.75 48.32,715.51 59.38,718.31 70.43,719.71 81.49,721.81 92.54,724.26 103.6,725.31 114.66,723.56 125.71,723.21 136.77,722.51 147.82,719.01 158.88,716.21 169.93,714.11 180.99,712 192.05,707.8 203.1,707.8 214.16,706.75 225.21,711.3 236.27,713.75 247.32,712 258.38,711.3 269.43,709.2 280.49,705.7 291.55,702.2 302.6,700.8 313.66,700.8 324.71,701.5 335.77,702.2 346.82,694.5 357.88,691 368.93,688.2 379.99,684 391.05,679.8 402.1,675.25 413.16,658.8 424.21,645.5 435.27,648.3 446.32,654.25 457.38,655.3 468.44,654.25 479.49,657.75 490.55,660.2 501.6,664.75 512.66,666.5 523.71,668.6 534.77,670.7 545.82,679.91 556.88,685.25 567.94,693.09 578.99,698.79 590.05,703.06 601.1,708.41 612.16,716.6 623.21,720.88 634.27,723.01 645.32,724.44 656.38,727.29 667.44,728 678.49,726.58 689.55,723.73 700.6,723.73 711.66,721.59 722.71,719.09 733.77,717.31 744.83,713.04 755.88,706.63 766.94,703.06 777.99,697.72 789.05,688.81 800.1,672.78 811.16,656.04 822.21,643.21 833.27,634.66 844.33,627.54 855.38,624.69 866.44,622.91 877.49,625.4 888.55,626.47 899.6,637.16 910.66,656.04 921.71,671 932.77,687.03 943.83,701.28 954.88,713.75 965.94,722.66 976.99,727.29 988.05,729.78 999.1,729.78 1010.16,731.56 1021.22,733.34 1032.27,735.13 1043.33,734.41 1054.38,731.56 1065.44,728 1076.49,725.15 1087.55,722.66 1098.6,719.09" fill="none" stroke="#2e84d6" stroke-width="1.7" stroke-linejoin="round"/>
<polyline points="-6.96,708.5 4.1,710.75 15.16,711.14 26.21,711.53 37.27,711.97 48.32,712.68 59.38,713.8 70.43,714.98 81.49,716.35 92.54,717.93 103.6,719.41 114.66,720.24 125.71,720.83 136.77,721.16 147.82,720.73 158.88,719.83 169.93,718.68 180.99,717.35 192.05,715.44 203.1,713.91 214.16,712.48 225.21,712.25 236.27,712.55 247.32,712.44 258.38,712.21 269.43,711.61 280.49,710.43 291.55,708.78 302.6,707.19 313.66,705.91 324.71,705.03 335.77,704.46 346.82,702.47 357.88,700.18 368.93,697.78 379.99,695.03 391.05,691.98 402.1,688.64 413.16,682.67 424.21,675.24 435.27,669.85 446.32,666.73 457.38,664.44 468.44,662.41 479.49,661.48 490.55,661.22 501.6,661.93 512.66,662.84 523.71,663.99 534.77,665.34 545.82,668.25 556.88,671.65 567.94,675.94 578.99,680.51 590.05,685.02 601.1,689.7 612.16,695.08 623.21,700.24 634.27,704.79 645.32,708.72 656.38,712.43 667.44,715.55 678.49,717.75 689.55,718.95 700.6,719.9 711.66,720.24 722.71,720.01 733.77,719.47 744.83,718.18 755.88,715.87 766.94,713.31 777.99,710.19 789.05,705.92 800.1,699.29 811.16,690.64 822.21,681.15 833.27,671.86 844.33,662.99 855.38,655.33 866.44,648.85 877.49,644.16 888.55,640.62 899.6,639.93 910.66,643.15 921.71,648.72 932.77,656.38 943.83,665.36 954.88,675.04 965.94,684.56 976.99,693.11 988.05,700.44 999.1,706.31 1010.16,711.36 1021.22,715.76 1032.27,719.63 1043.33,722.59 1054.38,724.38 1065.44,725.11 1076.49,725.12 1087.55,724.62 1098.6,723.52" fill="none" stroke="#8e1c22" stroke-width="1" stroke-linejoin="round"/>
</g>
<g clip-path="url(#c5)">
<polyline points="-6.96,845.95 4.1,845.95 15.16,845.95 26.21,845.95 37.27,845.95 48.32,847 59.38,851.55 70.43,859.25 81.49,866.95 92.54,874.31 103.6,881.31 114.66,885.51 125.71,887.96 136.77,887.26 147.82,883.76 158.88,877.81 169.93,873.26 180.99,868.7 192.05,860.3 203.1,850.5 214.16,845.95 225.21,848.05 236.27,851.2 247.32,850.5 258.38,849.1 269.43,845.25 280.49,840.7 291.55,837.2 302.6,834.75 313.66,834.75 324.71,833.7 335.77,832.3 346.82,826 357.88,819 368.93,811.3 379.99,803.25 391.05,795.55 402.1,793.45 413.16,785.75 424.21,778.75 435.27,785.75 446.32,792.75 457.38,799.05 468.44,804.3 479.49,810.95 490.55,817.25 501.6,824.25 512.66,831.25 523.71,834.75 534.77,840.7 545.82,848.38 556.88,857.28 567.94,864.41 578.99,871.53 590.05,878.66 601.1,885.78 612.16,888.28 623.21,891.84 634.27,896.47 645.32,900.03 656.38,904.66 667.44,908.94 678.49,913.21 689.55,916.06 700.6,916.06 711.66,916.06 722.71,912.5 733.77,910.72 744.83,907.16 755.88,901.81 766.94,895.4 777.99,890.41 789.05,883.29 800.1,873.31 811.16,860.84 822.21,854.79 833.27,850.16 844.33,844.81 855.38,839.47 866.44,836.62 877.49,837.69 888.55,839.47 899.6,846.59 910.66,849.09 921.71,850.87 932.77,852.65 943.83,851.94 954.88,851.94 965.94,849.09 976.99,849.09 988.05,852.65 999.1,856.21 1010.16,859.06 1021.22,860.84 1032.27,862.63 1043.33,865.48 1054.38,869.75 1065.44,874.38 1076.49,880.44 1087.55,886.85 1098.6,892.91" fill="none" stroke="#a01c22" stroke-width="1.6" stroke-linejoin="round"/>
</g>
<rect x="0" y="301" width="1526" height="1" fill="#181b27"/>
<rect x="0" y="303.5" width="1526" height="4" fill="#1e222d"/>
<rect x="0" y="302" width="1598" height="1.5" fill="#2e313c"/>
<rect x="0" y="456.75" width="1526" height="1" fill="#181b27"/>
<rect x="0" y="459.25" width="1526" height="4" fill="#1e222d"/>
<rect x="0" y="457.75" width="1598" height="1.5" fill="#2e313c"/>
<rect x="0" y="612.55" width="1526" height="1" fill="#181b27"/>
<rect x="0" y="615.05" width="1526" height="4" fill="#1e222d"/>
<rect x="0" y="613.55" width="1598" height="1.5" fill="#2e313c"/>
<rect x="0" y="768.05" width="1526" height="1" fill="#181b27"/>
<rect x="0" y="770.55" width="1526" height="4" fill="#1e222d"/>
<rect x="0" y="769.05" width="1598" height="1.5" fill="#2e313c"/>
<rect x="0" y="925.5" width="1527.5" height="1.5" fill="#2e313c"/>
<rect x="1526" y="0" width="1.5" height="927" fill="#2e313c"/>
<rect x="1597" y="0" width="1.5" height="953" fill="#2e313c"/>
<g fill="#2e313c"><rect x="1527" y="33.35" width="4" height="1" /><rect x="1527" y="81.8" width="4" height="1" /><rect x="1527" y="175.7" width="4" height="1" /><rect x="1527" y="223.7" width="4" height="1" /><rect x="1527" y="270.8" width="4" height="1" /><rect x="1527" y="332.1" width="4" height="1" /><rect x="1527" y="365.1" width="4" height="1" /><rect x="1527" y="397.6" width="4" height="1" /><rect x="1527" y="430.1" width="4" height="1" /><rect x="1527" y="473.7" width="4" height="1" /><rect x="1527" y="514.9" width="4" height="1" /><rect x="1527" y="556.7" width="4" height="1" /><rect x="1527" y="597.8" width="4" height="1" /><rect x="1527" y="625" width="4" height="1" /><rect x="1527" y="672.7" width="4" height="1" /><rect x="1527" y="721" width="4" height="1" /><rect x="1527" y="785" width="4" height="1" /><rect x="1527" y="822.7" width="4" height="1" /><rect x="1527" y="862" width="4" height="1" /><rect x="1527" y="900.1" width="4" height="1" /></g>
<g fill="#c4c7cd" stroke="#c4c7cd" stroke-width="0.35" font-size="12.3"><text x="1533.9" y="38.85">80000</text><text x="1533.9" y="87.3">70000</text><text x="1533.9" y="181.2">50000</text><text x="1533.9" y="229.2">40000</text><text x="1533.9" y="276.3">30000</text><text x="1533.9" y="337.6">200.0000</text><text x="1533.9" y="370.6">100.0000</text><text x="1533.9" y="403.1">0.0000</text><text x="1533.9" y="435.6">-100.0000</text><text x="1533.9" y="479.2">4.0000</text><text x="1533.9" y="520.4">2.0000</text><text x="1533.9" y="562.2">0.0000</text><text x="1533.9" y="603.3">-2.0000</text><text x="1533.9" y="630.5">8000.0000</text><text x="1533.9" y="678.2">4000.0000</text><text x="1533.9" y="726.5">0.0000</text><text x="1533.9" y="790.5">50.0000</text><text x="1533.9" y="828.2">40.0000</text><text x="1533.9" y="867.5">30.0000</text><text x="1533.9" y="905.6">20.0000</text></g>
<rect x="1526" y="119.3" width="45" height="19.6" fill="#089787"/>
<rect x="1527" y="128.7" width="4" height="1" fill="#fff"/>
<text x="1534.2" y="133.1" font-size="12.3" fill="#ffffff" stroke="#ffffff" stroke-width="0.35" textLength="32" lengthAdjust="spacingAndGlyphs">60100</text>
<g fill="#2e313c"><rect x="70.84" y="926" width="1" height="4"/><rect x="159.28" y="926" width="1" height="4"/><rect x="325.12" y="926" width="1" height="4"/><rect x="413.57" y="926" width="1" height="4"/><rect x="502.02" y="926" width="1" height="4"/><rect x="667.86" y="926" width="1" height="4"/><rect x="756.31" y="926" width="1" height="4"/><rect x="844.76" y="926" width="1" height="4"/><rect x="977.43" y="926" width="1" height="4"/><rect x="1065.88" y="926" width="1" height="4"/><rect x="1154.32" y="926" width="1" height="4"/><rect x="1320.16" y="926" width="1" height="4"/><rect x="1408.61" y="926" width="1" height="4"/><rect x="1497.06" y="926" width="1" height="4"/></g>
<g fill="#cfd2d8" font-size="12" font-weight="bold"><text x="71.34" y="946" text-anchor="middle">9</text><text x="159.78" y="946" text-anchor="middle">17</text><text x="325.62" y="946" text-anchor="middle">2021</text><text x="414.07" y="946" text-anchor="middle">9</text><text x="502.52" y="946" text-anchor="middle">17</text><text x="668.36" y="946" text-anchor="middle">2月</text><text x="756.81" y="946" text-anchor="middle">9</text><text x="845.26" y="946" text-anchor="middle">17</text><text x="977.93" y="946" text-anchor="middle">3月</text><text x="1066.38" y="946" text-anchor="middle">9</text><text x="1154.82" y="946" text-anchor="middle">17</text><text x="1320.66" y="946" text-anchor="middle">4月</text><text x="1409.11" y="946" text-anchor="middle">9</text><text x="1497.56" y="946" text-anchor="middle">17</text></g>
<rect x="5.2" y="6" width="13" height="13.6" rx="2" fill="none" stroke="#9a9da5" stroke-width="1.4"/>
<rect x="7.5" y="12.2" width="8.4" height="1.3" fill="#9a9da5"/>
<text x="26.2" y="19.5" font-size="18" fill="#d3d6dc" stroke="#d3d6dc" stroke-width="0.45" textLength="184.5" lengthAdjust="spacingAndGlyphs">bitbank, 1日, bcc_jpy</text>
<polygon points="216,11.01 223.6,11.01 219.8,15.19" fill="#cdd0d6"/>
<text x="241" y="19.6" font-size="16" fill="#d3d6dc" stroke="#d3d6dc" stroke-width="0.45" textLength="32" lengthAdjust="spacingAndGlyphs">始値</text>
<text x="277.1" y="19.6" font-size="16" fill="#1fa08f" stroke="#1fa08f" stroke-width="0.45" textLength="41.9" lengthAdjust="spacingAndGlyphs">59576</text>
<text x="331" y="19.6" font-size="16" fill="#d3d6dc" stroke="#d3d6dc" stroke-width="0.45" textLength="32.2" lengthAdjust="spacingAndGlyphs">高値</text>
<text x="366.2" y="19.6" font-size="16" fill="#1fa08f" stroke="#1fa08f" stroke-width="0.45" textLength="41.2" lengthAdjust="spacingAndGlyphs">61223</text>
<text x="420.4" y="19.6" font-size="16" fill="#d3d6dc" stroke="#d3d6dc" stroke-width="0.45" textLength="31.4" lengthAdjust="spacingAndGlyphs">安値</text>
<text x="455.4" y="19.6" font-size="16" fill="#1fa08f" stroke="#1fa08f" stroke-width="0.45" textLength="41.8" lengthAdjust="spacingAndGlyphs">58759</text>
<text x="509.4" y="19.6" font-size="16" fill="#d3d6dc" stroke="#d3d6dc" stroke-width="0.45" textLength="31.9" lengthAdjust="spacingAndGlyphs">終値</text>
<text x="544" y="19.6" font-size="16" fill="#1fa08f" stroke="#1fa08f" stroke-width="0.45" textLength="42.6" lengthAdjust="spacingAndGlyphs">60100</text>
<text x="601.6" y="19.6" font-size="16" fill="#1fa08f" stroke="#1fa08f" stroke-width="0.45" textLength="100" lengthAdjust="spacingAndGlyphs">+524 (+0.88%)</text>
<text x="4.4" y="41.45" font-size="14" fill="#d3d6dc" stroke="#d3d6dc" stroke-width="0.45" textLength="72.7" lengthAdjust="spacingAndGlyphs">Volume (20)</text>
<polygon points="81.7,34.42 90.7,34.42 86.2,39.38" fill="#cdd0d6"/>
<rect x="102" y="29.05" width="15.7" height="15.7" fill="#373b46"/><path d="M104.25 36.9C106.85 30.9 112.85 30.9 115.45 36.9C112.85 42.9 106.85 42.9 104.25 36.9Z" fill="none" stroke="#1a1e29" stroke-width="1.3"/><circle cx="109.85" cy="36.9" r="1.3" fill="#1a1e29"/><rect x="121" y="29.05" width="15.7" height="15.7" fill="#373b46"/><g transform="translate(128.85,36.9)"><circle r="3.2" fill="none" stroke="#1a1e29" stroke-width="1.8"/><rect x="-1.1" y="-5.6" width="2.2" height="2.6" fill="#1a1e29" transform="rotate(0)"/><rect x="-1.1" y="-5.6" width="2.2" height="2.6" fill="#1a1e29" transform="rotate(45)"/><rect x="-1.1" y="-5.6" width="2.2" height="2.6" fill="#1a1e29" transform="rotate(90)"/><rect x="-1.1" y="-5.6" width="2.2" height="2.6" fill="#1a1e29" transform="rotate(135)"/><rect x="-1.1" y="-5.6" width="2.2" height="2.6" fill="#1a1e29" transform="rotate(180)"/><rect x="-1.1" y="-5.6" width="2.2" height="2.6" fill="#1a1e29" transform="rotate(225)"/><rect x="-1.1" y="-5.6" width="2.2" height="2.6" fill="#1a1e29" transform="rotate(270)"/><rect x="-1.1" y="-5.6" width="2.2" height="2.6" fill="#1a1e29" transform="rotate(315)"/></g><rect x="140.2" y="29.05" width="15.7" height="15.7" fill="#373b46"/><path d="M143.75 32.6L152.35 41.2M152.35 32.6L143.75 41.2" stroke="#1a1e29" stroke-width="1.4"/>
<text x="165" y="41.45" font-size="14" fill="#1fa08f" stroke="#1fa08f" stroke-width="0.45" textLength="40.4" lengthAdjust="spacingAndGlyphs">2.144K</text>
<text x="218.1" y="41.45" font-size="14" fill="#1fa08f" stroke="#1fa08f" stroke-width="0.45" textLength="39.8" lengthAdjust="spacingAndGlyphs">14.11K</text>
<text x="4.4" y="63.75" font-size="14" fill="#d3d6dc" stroke="#d3d6dc" stroke-width="0.45" textLength="108" lengthAdjust="spacingAndGlyphs">EMA (14, close, 0)</text>
<polygon points="117.6,56.78 126.4,56.78 122,61.62" fill="#cdd0d6"/>
<rect x="137.4" y="51.35" width="15.7" height="15.7" fill="#373b46"/><path d="M139.65 59.2C142.25 53.2 148.25 53.2 150.85 59.2C148.25 65.2 142.25 65.2 139.65 59.2Z" fill="none" stroke="#1a1e29" stroke-width="1.3"/><circle cx="145.25" cy="59.2" r="1.3" fill="#1a1e29"/><rect x="157" y="51.35" width="15.7" height="15.7" fill="#373b46"/><g transform="translate(164.85,59.2)"><circle r="3.2" fill="none" stroke="#1a1e29" stroke-width="1.8"/><rect x="-1.1" y="-5.6" width="2.2" height="2.6" fill="#1a1e29" transform="rotate(0)"/><rect x="-1.1" y="-5.6" width="2.2" height="2.6" fill="#1a1e29" transform="rotate(45)"/><rect x="-1.1" y="-5.6" width="2.2" height="2.6" fill="#1a1e29" transform="rotate(90)"/><rect x="-1.1" y="-5.6" width="2.2" height="2.6" fill="#1a1e29" transform="rotate(135)"/><rect x="-1.1" y="-5.6" width="2.2" height="2.6" fill="#1a1e29" transform="rotate(180)"/><rect x="-1.1" y="-5.6" width="2.2" height="2.6" fill="#1a1e29" transform="rotate(225)"/><rect x="-1.1" y="-5.6" width="2.2" height="2.6" fill="#1a1e29" transform="rotate(270)"/><rect x="-1.1" y="-5.6" width="2.2" height="2.6" fill="#1a1e29" transform="rotate(315)"/></g><rect x="175.9" y="51.35" width="15.7" height="15.7" fill="#373b46"/><path d="M179.45 54.9L188.05 63.5M188.05 54.9L179.45 63.5" stroke="#1a1e29" stroke-width="1.4"/>
<text x="200" y="63.75" font-size="14" fill="#2a8ef0" stroke="#2a8ef0" stroke-width="0.45" textLength="68.1" lengthAdjust="spacingAndGlyphs">57812.6127</text>
<text x="4.4" y="87.3" font-size="14" fill="#d3d6dc" stroke="#d3d6dc" stroke-width="0.45" textLength="108" lengthAdjust="spacingAndGlyphs">EMA (53, close, 0)</text>
<polygon points="117.6,80.33 126.4,80.33 122,85.17" fill="#cdd0d6"/>
<rect x="137.4" y="74.9" width="15.7" height="15.7" fill="#373b46"/><path d="M139.65 82.75C142.25 76.75 148.25 76.75 150.85 82.75C148.25 88.75 142.25 88.75 139.65 82.75Z" fill="none" stroke="#1a1e29" stroke-width="1.3"/><circle cx="145.25" cy="82.75" r="1.3" fill="#1a1e29"/><rect x="157" y="74.9" width="15.7" height="15.7" fill="#373b46"/><g transform="translate(164.85,82.75)"><circle r="3.2" fill="none" stroke="#1a1e29" stroke-width="1.8"/><rect x="-1.1" y="-5.6" width="2.2" height="2.6" fill="#1a1e29" transform="rotate(0)"/><rect x="-1.1" y="-5.6" width="2.2" height="2.6" fill="#1a1e29" transform="rotate(45)"/><rect x="-1.1" y="-5.6" width="2.2" height="2.6" fill="#1a1e29" transform="rotate(90)"/><rect x="-1.1" y="-5.6" width="2.2" height="2.6" fill="#1a1e29" transform="rotate(135)"/><rect x="-1.1" y="-5.6" width="2.2" height="2.6" fill="#1a1e29" transform="rotate(180)"/><rect x="-1.1" y="-5.6" width="2.2" height="2.6" fill="#1a1e29" transform="rotate(225)"/><rect x="-1.1" y="-5.6" width="2.2" height="2.6" fill="#1a1e29" transform="rotate(270)"/><rect x="-1.1" y="-5.6" width="2.2" height="2.6" fill="#1a1e29" transform="rotate(315)"/></g><rect x="175.9" y="74.9" width="15.7" height="15.7" fill="#373b46"/><path d="M179.45 78.45L188.05 87.05M188.05 78.45L179.45 87.05" stroke="#1a1e29" stroke-width="1.4"/>
<text x="200" y="87.3" font-size="14" fill="#f0ec1a" stroke="#f0ec1a" stroke-width="0.45" textLength="68.1" lengthAdjust="spacingAndGlyphs">54779.5205</text>
<text x="4.4" y="109.6" font-size="14" fill="#d3d6dc" stroke="#d3d6dc" stroke-width="0.45" textLength="144" lengthAdjust="spacingAndGlyphs">Ichimoku (9, 26, 52, 26)</text>
<polygon points="153.7,102.66 162.4,102.66 158.05,107.44" fill="#cdd0d6"/>
<rect x="173.3" y="97.2" width="15.7" height="15.7" fill="#373b46"/><path d="M175.55 105.05C178.15 99.05 184.15 99.05 186.75 105.05C184.15 111.05 178.15 111.05 175.55 105.05Z" fill="none" stroke="#1a1e29" stroke-width="1.3"/><circle cx="181.15" cy="105.05" r="1.3" fill="#1a1e29"/><rect x="192.5" y="97.2" width="15.7" height="15.7" fill="#373b46"/><g transform="translate(200.35,105.05)"><circle r="3.2" fill="none" stroke="#1a1e29" stroke-width="1.8"/><rect x="-1.1" y="-5.6" width="2.2" height="2.6" fill="#1a1e29" transform="rotate(0)"/><rect x="-1.1" y="-5.6" width="2.2" height="2.6" fill="#1a1e29" transform="rotate(45)"/><rect x="-1.1" y="-5.6" width="2.2" height="2.6" fill="#1a1e29" transform="rotate(90)"/><rect x="-1.1" y="-5.6" width="2.2" height="2.6" fill="#1a1e29" transform="rotate(135)"/><rect x="-1.1" y="-5.6" width="2.2" height="2.6" fill="#1a1e29" transform="rotate(180)"/><rect x="-1.1" y="-5.6" width="2.2" height="2.6" fill="#1a1e29" transform="rotate(225)"/><rect x="-1.1" y="-5.6" width="2.2" height="2.6" fill="#1a1e29" transform="rotate(270)"/><rect x="-1.1" y="-5.6" width="2.2" height="2.6" fill="#1a1e29" transform="rotate(315)"/></g><rect x="211.8" y="97.2" width="15.7" height="15.7" fill="#373b46"/><path d="M215.35 100.75L223.95 109.35M223.95 100.75L215.35 109.35" stroke="#1a1e29" stroke-width="1.4"/>
<text x="236.3" y="109.6" font-size="14" fill="#2a8ef0" stroke="#2a8ef0" stroke-width="0.45" textLength="67.5" lengthAdjust="spacingAndGlyphs">56449.5000</text>
<text x="316.25" y="109.6" font-size="14" fill="#a51e1e" stroke="#a51e1e" stroke-width="0.45" textLength="67.5" lengthAdjust="spacingAndGlyphs">63651.0000</text>
<text x="395.5" y="109.6" font-size="14" fill="#4a9a1a" stroke="#4a9a1a" stroke-width="0.45" textLength="67.5" lengthAdjust="spacingAndGlyphs">60100.0000</text>
<text x="475" y="109.6" font-size="14" fill="#12841a" stroke="#12841a" stroke-width="0.45" textLength="67.5" lengthAdjust="spacingAndGlyphs">60513.5000</text>
<text x="554.5" y="109.6" font-size="14" fill="#f01c1c" stroke="#f01c1c" stroke-width="0.45" textLength="67.5" lengthAdjust="spacingAndGlyphs">54626.5000</text>
<text x="4.4" y="324.55" font-size="14" fill="#d3d6dc" stroke="#d3d6dc" stroke-width="0.45" textLength="47.5" lengthAdjust="spacingAndGlyphs">CCI (20)</text>
<polygon points="57.25,317.7 65.6,317.7 61.42,322.3" fill="#cdd0d6"/>
<rect x="77.1" y="312.15" width="15.7" height="15.7" fill="#373b46"/><path d="M79.35 320C81.95 314 87.95 314 90.55 320C87.95 326 81.95 326 79.35 320Z" fill="none" stroke="#1a1e29" stroke-width="1.3"/><circle cx="84.95" cy="320" r="1.3" fill="#1a1e29"/><rect x="96.1" y="312.15" width="15.7" height="15.7" fill="#373b46"/><g transform="translate(103.95,320)"><circle r="3.2" fill="none" stroke="#1a1e29" stroke-width="1.8"/><rect x="-1.1" y="-5.6" width="2.2" height="2.6" fill="#1a1e29" transform="rotate(0)"/><rect x="-1.1" y="-5.6" width="2.2" height="2.6" fill="#1a1e29" transform="rotate(45)"/><rect x="-1.1" y="-5.6" width="2.2" height="2.6" fill="#1a1e29" transform="rotate(90)"/><rect x="-1.1" y="-5.6" width="2.2" height="2.6" fill="#1a1e29" transform="rotate(135)"/><rect x="-1.1" y="-5.6" width="2.2" height="2.6" fill="#1a1e29" transform="rotate(180)"/><rect x="-1.1" y="-5.6" width="2.2" height="2.6" fill="#1a1e29" transform="rotate(225)"/><rect x="-1.1" y="-5.6" width="2.2" height="2.6" fill="#1a1e29" transform="rotate(270)"/><rect x="-1.1" y="-5.6" width="2.2" height="2.6" fill="#1a1e29" transform="rotate(315)"/></g><rect x="115.1" y="312.15" width="15.7" height="15.7" fill="#373b46"/><path d="M118.65 315.7L127.25 324.3M127.25 315.7L118.65 324.3" stroke="#1a1e29" stroke-width="1.4"/>
<text x="139.75" y="324.55" font-size="14" fill="#cfc24e" stroke="#cfc24e" stroke-width="0.45" textLength="47.1" lengthAdjust="spacingAndGlyphs">57.6229</text>
<text x="4.4" y="480.4" font-size="14" fill="#d3d6dc" stroke="#d3d6dc" stroke-width="0.45" textLength="56.9" lengthAdjust="spacingAndGlyphs">Fisher (9)</text>
<polygon points="66.4,473.49 75,473.49 70.7,478.22" fill="#cdd0d6"/>
<rect x="85.9" y="468" width="15.7" height="15.7" fill="#373b46"/><path d="M88.15 475.85C90.75 469.85 96.75 469.85 99.35 475.85C96.75 481.85 90.75 481.85 88.15 475.85Z" fill="none" stroke="#1a1e29" stroke-width="1.3"/><circle cx="93.75" cy="475.85" r="1.3" fill="#1a1e29"/><rect x="105.2" y="468" width="15.7" height="15.7" fill="#373b46"/><g transform="translate(113.05,475.85)"><circle r="3.2" fill="none" stroke="#1a1e29" stroke-width="1.8"/><rect x="-1.1" y="-5.6" width="2.2" height="2.6" fill="#1a1e29" transform="rotate(0)"/><rect x="-1.1" y="-5.6" width="2.2" height="2.6" fill="#1a1e29" transform="rotate(45)"/><rect x="-1.1" y="-5.6" width="2.2" height="2.6" fill="#1a1e29" transform="rotate(90)"/><rect x="-1.1" y="-5.6" width="2.2" height="2.6" fill="#1a1e29" transform="rotate(135)"/><rect x="-1.1" y="-5.6" width="2.2" height="2.6" fill="#1a1e29" transform="rotate(180)"/><rect x="-1.1" y="-5.6" width="2.2" height="2.6" fill="#1a1e29" transform="rotate(225)"/><rect x="-1.1" y="-5.6" width="2.2" height="2.6" fill="#1a1e29" transform="rotate(270)"/><rect x="-1.1" y="-5.6" width="2.2" height="2.6" fill="#1a1e29" transform="rotate(315)"/></g><rect x="124.2" y="468" width="15.7" height="15.7" fill="#373b46"/><path d="M127.75 471.55L136.35 480.15M136.35 471.55L127.75 480.15" stroke="#1a1e29" stroke-width="1.4"/>
<text x="149.2" y="480.4" font-size="14" fill="#2a8ef0" stroke="#2a8ef0" stroke-width="0.45" textLength="39.8" lengthAdjust="spacingAndGlyphs">2.3484</text>
<text x="201.25" y="480.4" font-size="14" fill="#f08a1c" stroke="#f08a1c" stroke-width="0.45" textLength="38.5" lengthAdjust="spacingAndGlyphs">1.9095</text>
<text x="4.4" y="635.6" font-size="14" fill="#d3d6dc" stroke="#d3d6dc" stroke-width="0.45" textLength="140.3" lengthAdjust="spacingAndGlyphs">MACD (12, 26, close, 9)</text>
<polygon points="149.3,628.77 157.6,628.77 153.45,633.33" fill="#cdd0d6"/>
<rect x="169.1" y="623.2" width="15.7" height="15.7" fill="#373b46"/><path d="M171.35 631.05C173.95 625.05 179.95 625.05 182.55 631.05C179.95 637.05 173.95 637.05 171.35 631.05Z" fill="none" stroke="#1a1e29" stroke-width="1.3"/><circle cx="176.95" cy="631.05" r="1.3" fill="#1a1e29"/><rect x="188.4" y="623.2" width="15.7" height="15.7" fill="#373b46"/><g transform="translate(196.25,631.05)"><circle r="3.2" fill="none" stroke="#1a1e29" stroke-width="1.8"/><rect x="-1.1" y="-5.6" width="2.2" height="2.6" fill="#1a1e29" transform="rotate(0)"/><rect x="-1.1" y="-5.6" width="2.2" height="2.6" fill="#1a1e29" transform="rotate(45)"/><rect x="-1.1" y="-5.6" width="2.2" height="2.6" fill="#1a1e29" transform="rotate(90)"/><rect x="-1.1" y="-5.6" width="2.2" height="2.6" fill="#1a1e29" transform="rotate(135)"/><rect x="-1.1" y="-5.6" width="2.2" height="2.6" fill="#1a1e29" transform="rotate(180)"/><rect x="-1.1" y="-5.6" width="2.2" height="2.6" fill="#1a1e29" transform="rotate(225)"/><rect x="-1.1" y="-5.6" width="2.2" height="2.6" fill="#1a1e29" transform="rotate(270)"/><rect x="-1.1" y="-5.6" width="2.2" height="2.6" fill="#1a1e29" transform="rotate(315)"/></g><rect x="207" y="623.2" width="15.7" height="15.7" fill="#373b46"/><path d="M210.55 626.75L219.15 635.35M219.15 626.75L210.55 635.35" stroke="#1a1e29" stroke-width="1.4"/>
<text x="233.2" y="635.6" font-size="14" fill="#e81c1c" stroke="#e81c1c" stroke-width="0.45" textLength="52.8" lengthAdjust="spacingAndGlyphs">311.1300</text>
<text x="297.6" y="635.6" font-size="14" fill="#2a8ef0" stroke="#2a8ef0" stroke-width="0.45" textLength="53.9" lengthAdjust="spacingAndGlyphs">203.6795</text>
<text x="363.6" y="635.6" font-size="14" fill="#e81c1c" stroke="#e81c1c" stroke-width="0.45" textLength="58.6" lengthAdjust="spacingAndGlyphs">-107.4506</text>
<text x="4.4" y="791.4" font-size="14" fill="#d3d6dc" stroke="#d3d6dc" stroke-width="0.45" textLength="74.1" lengthAdjust="spacingAndGlyphs">ADX (14, 14)</text>
<polygon points="84.3,784.46 93,784.46 88.65,789.24" fill="#cdd0d6"/>
<rect x="104" y="779" width="15.7" height="15.7" fill="#373b46"/><path d="M106.25 786.85C108.85 780.85 114.85 780.85 117.45 786.85C114.85 792.85 108.85 792.85 106.25 786.85Z" fill="none" stroke="#1a1e29" stroke-width="1.3"/><circle cx="111.85" cy="786.85" r="1.3" fill="#1a1e29"/><rect x="123.3" y="779" width="15.7" height="15.7" fill="#373b46"/><g transform="translate(131.15,786.85)"><circle r="3.2" fill="none" stroke="#1a1e29" stroke-width="1.8"/><rect x="-1.1" y="-5.6" width="2.2" height="2.6" fill="#1a1e29" transform="rotate(0)"/><rect x="-1.1" y="-5.6" width="2.2" height="2.6" fill="#1a1e29" transform="rotate(45)"/><rect x="-1.1" y="-5.6" width="2.2" height="2.6" fill="#1a1e29" transform="rotate(90)"/><rect x="-1.1" y="-5.6" width="2.2" height="2.6" fill="#1a1e29" transform="rotate(135)"/><rect x="-1.1" y="-5.6" width="2.2" height="2.6" fill="#1a1e29" transform="rotate(180)"/><rect x="-1.1" y="-5.6" width="2.2" height="2.6" fill="#1a1e29" transform="rotate(225)"/><rect x="-1.1" y="-5.6" width="2.2" height="2.6" fill="#1a1e29" transform="rotate(270)"/><rect x="-1.1" y="-5.6" width="2.2" height="2.6" fill="#1a1e29" transform="rotate(315)"/></g><rect x="142.2" y="779" width="15.7" height="15.7" fill="#373b46"/><path d="M145.75 782.55L154.35 791.15M154.35 782.55L145.75 791.15" stroke="#1a1e29" stroke-width="1.4"/>
<text x="166.8" y="791.4" font-size="14" fill="#f01c1c" stroke="#f01c1c" stroke-width="0.45" textLength="47" lengthAdjust="spacingAndGlyphs">22.1500</text>
<circle cx="32.1" cy="891" r="17.8" fill="#2d303b"/>
<g fill="#2a96f0"><circle cx="23" cy="893.8" r="3.8"/><circle cx="29.6" cy="888.6" r="5.8"/><circle cx="36.3" cy="890" r="3.4"/><circle cx="40.6" cy="893.2" r="4.3"/><rect x="22.5" y="892" width="18.5" height="5.6"/></g>
<polyline points="20.4,895.5 28.75,888.75 34.9,894.7 40.3,888.75" fill="none" stroke="#1d1f2a" stroke-width="1.25" stroke-linejoin="round"/>
<circle cx="28.75" cy="888.75" r="1.1" fill="#1d1f2a"/><circle cx="34.9" cy="894.7" r="1.1" fill="#1d1f2a"/>
<text x="61.7" y="895.5" font-size="16" fill="#262a35" textLength="151" lengthAdjust="spacingAndGlyphs" stroke="#262a35" stroke-width="3.6" stroke-linejoin="round">Chart by TradingView</text>
<text x="61.7" y="895.5" font-size="16" fill="#2896f0" stroke="#2896f0" stroke-width="0.45" textLength="151" lengthAdjust="spacingAndGlyphs">Chart by TradingView</text>
<path d="M728 0 H868.8 V21.4 Q868.8 24.4 865.8 24.4 H731 Q728 24.4 728 21.4 Z" fill="#a4a6ad"/>
<text x="735.2" y="2.6" font-size="11.5" fill="#585b64" stroke="#585b64" stroke-width="0.4" textLength="117" lengthAdjust="spacingAndGlyphs">フルスクリーンを終了</text>
<text x="733.8" y="19.6" font-size="12.5" fill="#5a5d66" stroke="#5a5d66" stroke-width="0.35" textLength="28.7" lengthAdjust="spacingAndGlyphs">(ESC)</text>

</svg></body></html>
